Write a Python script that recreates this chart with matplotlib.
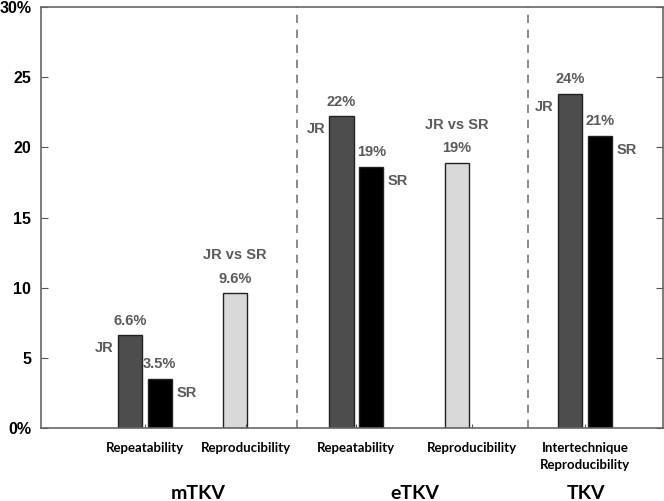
import numpy as np
import matplotlib.pyplot as plt

plt.rcParams['font.family'] = ['Liberation Sans', 'DejaVu Sans']
plt.rcParams['font.weight'] = 'bold'

# data
groups = ['mTKV', 'eTKV', 'TKV']
tick_labels = ['Repeatability', 'Reproducibility', 'Repeatability',
               'Reproducibility', 'Intertechnique\nReproducibility']
jr = [6.6, 22.2, 23.8]        # repeatability JR (mTKV, eTKV, TKV)
sr = [3.5, 18.6, 20.8]        # repeatability SR
jr_lab = ['6.6%', '22%', '24%']
sr_lab = ['3.5%', '19%', '21%']
repro = [9.6, 18.9]           # JR vs SR reproducibility (mTKV, eTKV)
repro_lab = ['9.6%', '19%']

rep_pos = np.array([1.67, 5.07, 8.75])
rpr_pos = np.array([3.12, 6.69])
tick_pos = np.array([1.67, 3.30, 5.07, 6.93, 8.75])
grp_pos = [2.52, 6.01, 8.76]
sep = [4.12, 7.83]
w = 0.39
off = 0.24

txtc = '#5a5a5a'

fig = plt.figure(figsize=(6.64, 5.01), dpi=100)
ax = fig.add_axes([41/664, 73/501, 622/664, 421/501])

ax.bar(rep_pos - off, jr, w, color='#4d4d4d', edgecolor='#222222', lw=1)
ax.bar(rep_pos + off, sr, w, color='black', edgecolor='#222222', lw=1)
ax.bar(rpr_pos, repro, w, color='#d9d9d9', edgecolor='#222222', lw=1)

for x in sep:
    ax.axvline(x, color='#777777', ls=(0, (5, 4)), lw=1.2)

fs = 10.5
for i in range(3):
    ax.text(rep_pos[i] - off, jr[i] + 0.55, jr_lab[i], ha='center', va='bottom',
            color=txtc, fontsize=fs)
    ax.text(rep_pos[i] - off - w/2 - 0.07, jr[i] - 0.9, 'JR', ha='right', va='center',
            color=txtc, fontsize=fs)
    ax.text(rep_pos[i] + off, sr[i] + 0.55, sr_lab[i], ha='center', va='bottom',
            color=txtc, fontsize=fs)
    ax.text(rep_pos[i] + off + w/2 + 0.07, sr[i] - 1.0, 'SR', ha='left', va='center',
            color=txtc, fontsize=fs)

for i in range(2):
    ax.text(rpr_pos[i], repro[i] + 0.55, repro_lab[i], ha='center', va='bottom',
            color=txtc, fontsize=fs)
    ax.text(rpr_pos[i], repro[i] + 2.2, 'JR vs SR', ha='center', va='bottom',
            color=txtc, fontsize=fs)

ax.set_xlim(0, 10)
ax.set_ylim(0, 30)
ax.set_yticks([0, 5, 10, 15, 20, 25, 30])
ax.set_yticklabels(['0%', '5', '10', '15', '20', '25', '30%'], fontsize=11.5)
ax.set_xticks(tick_pos)
ax.set_xticklabels(tick_labels, fontsize=9.5, linespacing=1.55, va='top',
                   family=['Lato', 'DejaVu Sans'])
ax.tick_params(axis='y', direction='in', right=True, length=5, color='#555555', pad=7)
ax.tick_params(axis='x', direction='in', length=3, color='#555555', pad=10)
for s in ax.spines.values():
    s.set_color('#666666')
    s.set_linewidth(1.2)

for g, x in zip(groups, grp_pos):
    ax.text(x, -4.65, g, ha='center', va='center', fontsize=14,
            family=['Lato', 'DejaVu Sans'], clip_on=False)

fig.savefig('out.png', dpi=100)
